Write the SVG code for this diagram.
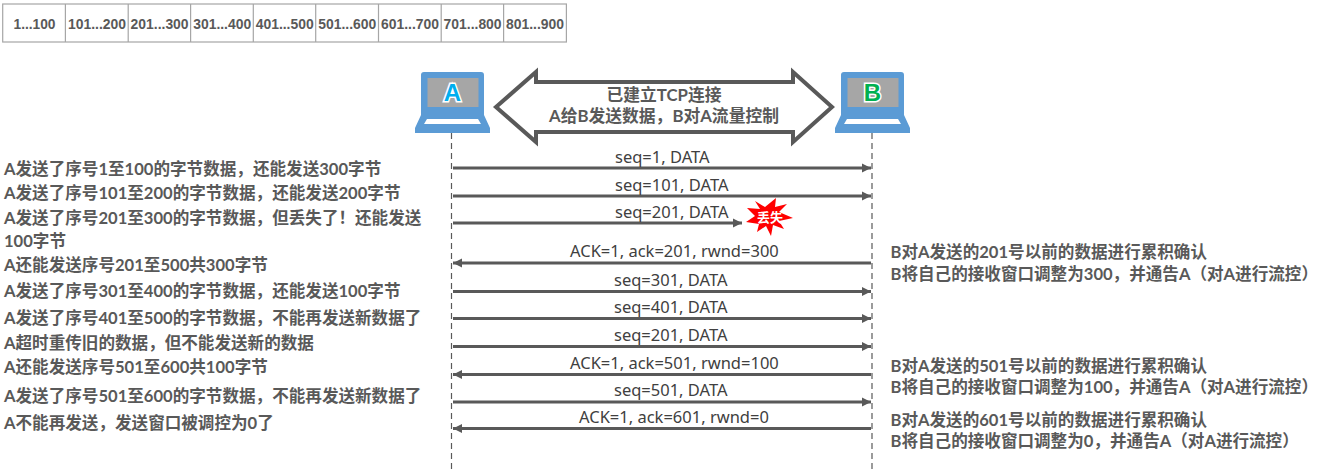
<svg xmlns="http://www.w3.org/2000/svg" width="1323" height="471" viewBox="0 0 1323 471">
<style>
text{font-family:"Lato","Noto Sans CJK SC",sans-serif;fill:#595959}
.note{font-size:16.580px;font-weight:700}
.lab{font-family:"Noto Sans","Noto Sans CJK SC",sans-serif;font-size:16.500px;fill:#404040}
.cell{font-family:"Liberation Sans",sans-serif;font-size:15px;font-weight:700;text-anchor:middle}
.grid{fill:#fff;stroke:#a6a6a6;stroke-width:1.2}
.life{stroke:#595959;stroke-width:1.2;stroke-dasharray:6 4;fill:none}
.msg{stroke:#595959;stroke-width:3;fill:none;marker-end:url(#ah)}
.lap{fill:#5b9bd5}
.scr{fill:#a6a6a6}
.big{font-family:"Liberation Sans",sans-serif;font-size:24px;font-weight:700;text-anchor:middle;stroke:#fff;stroke-width:3;paint-order:stroke}
.head{font-size:16.800px;font-weight:700;text-anchor:middle}
</style>
<defs>
<marker id="ah" markerUnits="userSpaceOnUse" markerWidth="10" markerHeight="10" refX="9" refY="5" orient="auto"><path d="M0 0.500L9 5L0 9.500z" fill="#595959"/></marker>
<g id="laptop-shape">
<path class="lap" d="M424 72H481Q484 72 484 75V115L490 128V133H415V128L421 115V75Q421 72 424 72z"/>
<rect class="scr" x="427.500" y="78" width="51" height="29"/>
<path d="M427 119H478L481 124H424z" fill="#fff"/>
</g>
</defs>
<g id="table">
<rect class="grid" x="2.700" y="4" width="563.700" height="38"/>
<path class="grid" d="M65.400 4V42M128.200 4V42M190.600 4V42M253.300 4V42M315.700 4V42M378.500 4V42M441.200 4V42M503.600 4V42"/>
<text class="cell" x="34.500" y="29" textLength="42" lengthAdjust="spacingAndGlyphs">1...100</text>
<text class="cell" x="97" y="29" textLength="58" lengthAdjust="spacingAndGlyphs">101...200</text>
<text class="cell" x="159.600" y="29" textLength="58" lengthAdjust="spacingAndGlyphs">201...300</text>
<text class="cell" x="222.200" y="29" textLength="58" lengthAdjust="spacingAndGlyphs">301...400</text>
<text class="cell" x="284.700" y="29" textLength="58" lengthAdjust="spacingAndGlyphs">401...500</text>
<text class="cell" x="347.300" y="29" textLength="58" lengthAdjust="spacingAndGlyphs">501...600</text>
<text class="cell" x="410" y="29" textLength="58" lengthAdjust="spacingAndGlyphs">601...700</text>
<text class="cell" x="472.600" y="29" textLength="58" lengthAdjust="spacingAndGlyphs">701...800</text>
<text class="cell" x="535" y="29" textLength="58" lengthAdjust="spacingAndGlyphs">801...900</text>
</g>
<g id="node-a"><use href="#laptop-shape"/><text class="big" x="452.500" y="101" style="fill:#00aeef">A</text></g>
<g id="node-b"><use href="#laptop-shape" x="420"/><text class="big" x="872.500" y="101" style="fill:#00b050">B</text></g>
<g id="connection">
<path d="M496 107L536 72V82H793V72L832 107L793 142V132H536V142z" fill="#fff" stroke="#595959" stroke-width="4"/>
<text class="head" x="664" y="101">已建立TCP连接</text>
<text class="head" x="664" y="122">A给B发送数据，B对A流量控制</text>
</g>
<g id="connectors">
<path class="life" d="M451.500 133V471"/>
<path class="life" d="M872 133V471"/>
<path class="msg" d="M453 168H871"/>
<path class="msg" d="M453 196H871"/>
<path class="msg" d="M453 223H742"/>
<path class="msg" d="M871 263H453"/>
<path class="msg" d="M453 291.500H871"/>
<path class="msg" d="M453 318.500H871"/>
<path class="msg" d="M453 346.500H871"/>
<path class="msg" d="M871 374.500H453"/>
<path class="msg" d="M453 402H871"/>
<path class="msg" d="M871 428.500H453"/>
</g>
<g id="message-labels">
<text class="lab" x="615" y="163">seq=1, DATA</text>
<text class="lab" x="615" y="191">seq=101, DATA</text>
<text class="lab" x="615" y="218">seq=201, DATA</text>
<text class="lab" x="570" y="257">ACK=1, ack=201, rwnd=300</text>
<text class="lab" x="614" y="285.500">seq=301, DATA</text>
<text class="lab" x="614" y="312.500">seq=401, DATA</text>
<text class="lab" x="614" y="341">seq=201, DATA</text>
<text class="lab" x="570" y="369">ACK=1, ack=501, rwnd=100</text>
<text class="lab" x="614" y="396">seq=501, DATA</text>
<text class="lab" x="579" y="422.500">ACK=1, ack=601, rwnd=0</text>
</g>
<g id="lost">
<path fill="#ff0000" d="M776 198L775 207L787 204L779 212L793 218L779 221L784 229L773 225L771 236L766 226L757 232L759 224L746 222L755 216L747 208L760 209L755 201L765 207z"/>
<text x="770" y="222" font-size="13px" font-weight="700" text-anchor="middle" style="fill:#fff">丢失</text>
</g>
<g id="notes-a">
<text class="note" x="4" y="175">A发送了序号1至100的字节数据，还能发送300字节</text>
<text class="note" x="4" y="199">A发送了序号101至200的字节数据，还能发送200字节</text>
<text class="note" x="4" y="224">A发送了序号201至300的字节数据，但丢失了！还能发送</text>
<text class="note" x="4" y="246.500">100字节</text>
<text class="note" x="4" y="271">A还能发送序号201至500共300字节</text>
<text class="note" x="4" y="297">A发送了序号301至400的字节数据，还能发送100字节</text>
<text class="note" x="4" y="324">A发送了序号401至500的字节数据，不能再发送新数据了</text>
<text class="note" x="4" y="349">A超时重传旧的数据，但不能发送新的数据</text>
<text class="note" x="4" y="373">A还能发送序号501至600共100字节</text>
<text class="note" x="4" y="402">A发送了序号501至600的字节数据，不能再发送新数据了</text>
<text class="note" x="4" y="429">A不能再发送，发送窗口被调控为0了</text>
</g>
<g id="notes-b">
<text class="note" x="890.500" y="258">B对A发送的201号以前的数据进行累积确认</text>
<text class="note" x="890.500" y="280">B将自己的接收窗口调整为300，并通告A（对A进行流控）</text>
<text class="note" x="890.500" y="372">B对A发送的501号以前的数据进行累积确认</text>
<text class="note" x="890.500" y="393">B将自己的接收窗口调整为100，并通告A（对A进行流控）</text>
<text class="note" x="890.500" y="426">B对A发送的601号以前的数据进行累积确认</text>
<text class="note" x="890.500" y="447">B将自己的接收窗口调整为0，并通告A（对A进行流控）</text>
</g>
</svg>
